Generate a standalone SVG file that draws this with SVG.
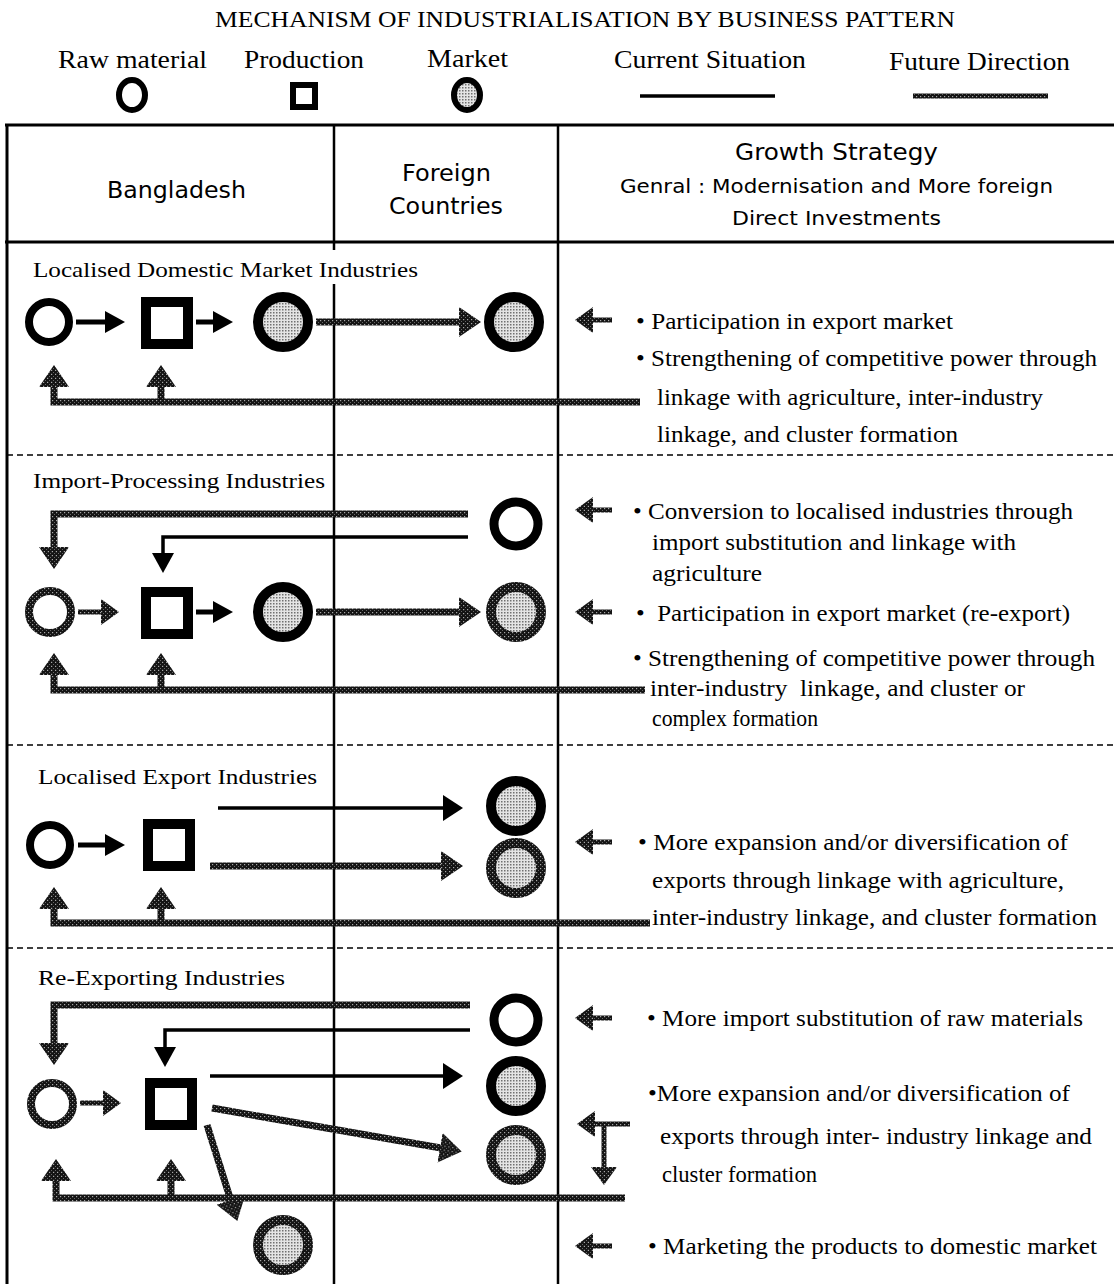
<svg xmlns="http://www.w3.org/2000/svg" width="1114" height="1284" viewBox="0 0 1114 1284">
<style>
.t{font-family:"Liberation Serif",serif;fill:#000}
.h{font-family:"DejaVu Sans","Liberation Sans",sans-serif;fill:#000}
.b{font-size:23.5px}
.st{font-size:22px}
.grid{stroke:#000;fill:none}
.dash{stroke:#000;stroke-width:1.5;stroke-dasharray:6 4;fill:none}
.cur{stroke:#000;stroke-width:3.5;fill:none}
.cs{stroke:#000;stroke-width:5;fill:none}
.fut{stroke:url(#tex);stroke-width:7;fill:none}
.fs{stroke:url(#tex);stroke-width:5;fill:none}
.raw{fill:#fff;stroke:#000;stroke-width:8}
.rawF{fill:#fff;stroke:#000;stroke-width:9}
.rawT{fill:#fff;stroke:url(#tex);stroke-width:8}
.prod{fill:#fff;stroke:#000;stroke-width:10}
.mkt{fill:url(#dots);stroke:#000;stroke-width:10}
.mktT{fill:url(#dots);stroke:url(#tex);stroke-width:10}
</style>
<defs>
<pattern id="tex" patternUnits="userSpaceOnUse" width="4" height="4">
<rect width="4" height="4" fill="#141414"/>
<rect x="0" y="0" width="1.2" height="1.2" fill="#a8a8a8"/>
<rect x="2" y="2" width="1" height="1" fill="#666"/>
</pattern>
<pattern id="dots" patternUnits="userSpaceOnUse" width="3" height="3">
<rect width="3" height="3" fill="#e4e4e4"/>
<rect width="1.5" height="1.5" fill="#707070"/>
</pattern>
<marker id="ah" markerUnits="userSpaceOnUse" viewBox="0 0 20 22" markerWidth="20" markerHeight="22" refX="1" refY="11" orient="auto"><path d="M0,0 L20,11 L0,22 z" fill="#000"/></marker>
<marker id="ahL" markerUnits="userSpaceOnUse" viewBox="0 0 20 26" markerWidth="20" markerHeight="26" refX="1" refY="13" orient="auto"><path d="M0,0 L20,13 L0,26 z" fill="#000"/></marker>
<marker id="fh" markerUnits="userSpaceOnUse" viewBox="0 0 22 30" markerWidth="22" markerHeight="30" refX="1" refY="15" orient="auto"><path d="M0,0 L22,15 L0,30 z" fill="url(#tex)"/></marker>
<marker id="fhs" markerUnits="userSpaceOnUse" viewBox="0 0 18 26" markerWidth="18" markerHeight="26" refX="1" refY="13" orient="auto"><path d="M0,0 L18,13 L0,26 z" fill="url(#tex)"/></marker>
</defs>
<rect width="1114" height="1284" fill="#fff"/>

<g id="title">
<text class="t" x="215" y="27" font-size="24" textLength="740" lengthAdjust="spacingAndGlyphs">MECHANISM OF INDUSTRIALISATION BY BUSINESS PATTERN</text>
</g>

<g id="legend">
<text class="t" x="58" y="68" font-size="26" textLength="149" lengthAdjust="spacingAndGlyphs">Raw material</text>
<text class="t" x="244" y="68" font-size="26" textLength="120" lengthAdjust="spacingAndGlyphs">Production</text>
<text class="t" x="427" y="67" font-size="26" textLength="81" lengthAdjust="spacingAndGlyphs">Market</text>
<text class="t" x="614" y="68" font-size="26" textLength="192" lengthAdjust="spacingAndGlyphs">Current Situation</text>
<text class="t" x="889" y="70" font-size="26" textLength="181" lengthAdjust="spacingAndGlyphs">Future Direction</text>
<ellipse cx="132" cy="95" rx="13" ry="15" fill="#fff" stroke="#000" stroke-width="6"/>
<rect x="293" y="85" width="22" height="22" fill="#fff" stroke="#000" stroke-width="6"/>
<ellipse cx="467" cy="95" rx="13" ry="15" fill="url(#dots)" stroke="#000" stroke-width="6"/>
<path class="cur" d="M640,96 H775"/>
<path d="M913,96 H1048" stroke="url(#tex)" stroke-width="5" fill="none"/>
</g>

<g id="table">
<path class="grid" stroke-width="3" d="M5,125 H1114"/>
<path class="grid" stroke-width="3" d="M5,242 H1114"/>
<path class="grid" stroke-width="3" d="M7,125 V1284"/>
<path class="grid" stroke-width="2.5" d="M334,125 V250 M334,284 V1284"/>
<path class="grid" stroke-width="2.5" d="M558,125 V1284"/>
<path class="dash" d="M7,455 H1114 M7,745 H1114 M7,948 H1114"/>
</g>

<g id="header">
<text class="h" x="107" y="198" font-size="23" textLength="139" lengthAdjust="spacingAndGlyphs">Bangladesh</text>
<text class="h" x="402" y="181" font-size="23" textLength="89" lengthAdjust="spacingAndGlyphs">Foreign</text>
<text class="h" x="389" y="214" font-size="23" textLength="114" lengthAdjust="spacingAndGlyphs">Countries</text>
<text class="h" x="735" y="160" font-size="23" textLength="203" lengthAdjust="spacingAndGlyphs">Growth Strategy</text>
<text class="h" x="620" y="193" font-size="20" textLength="433" lengthAdjust="spacingAndGlyphs">Genral : Modernisation and More foreign</text>
<text class="h" x="732" y="225" font-size="20" textLength="209" lengthAdjust="spacingAndGlyphs">Direct Investments</text>
</g>

<g id="connectors">
<!-- section 1 -->
<path class="cs" d="M76,322 H106" marker-end="url(#ah)"/>
<path class="cs" d="M196,322 H214" marker-end="url(#ah)"/>
<path class="fut" d="M316,322 H460" marker-end="url(#fh)"/>
<path class="fut" d="M640,402 H54 V386" marker-end="url(#fh)"/>
<path class="fut" d="M161,402 V386" marker-end="url(#fh)"/>
<path class="fs" d="M612,320 H592" marker-end="url(#fhs)"/>
<!-- section 2 -->
<path class="fut" d="M468,514 H54 V548" marker-end="url(#fh)"/>
<path class="cur" d="M468,537 H163 V554" marker-end="url(#ah)"/>
<path class="fs" d="M78,612 H102" marker-end="url(#fhs)"/>
<path class="cs" d="M196,612 H214" marker-end="url(#ah)"/>
<path class="fut" d="M316,612 H460" marker-end="url(#fh)"/>
<path class="fut" d="M645,690 H54 V674" marker-end="url(#fh)"/>
<path class="fut" d="M161,690 V674" marker-end="url(#fh)"/>
<path class="fs" d="M612,510 H592" marker-end="url(#fhs)"/>
<path class="fs" d="M612,612 H592" marker-end="url(#fhs)"/>
<!-- section 3 -->
<path class="cs" d="M78,845 H106" marker-end="url(#ah)"/>
<path class="cur" d="M218,808 H444" marker-end="url(#ahL)"/>
<path class="fut" d="M210,866 H442" marker-end="url(#fh)"/>
<path class="fut" d="M650,923 H54 V908" marker-end="url(#fh)"/>
<path class="fut" d="M161,923 V908" marker-end="url(#fh)"/>
<path class="fs" d="M612,842 H592" marker-end="url(#fhs)"/>
<!-- section 4 -->
<path class="fut" d="M470,1005 H54 V1044" marker-end="url(#fh)"/>
<path class="cur" d="M470,1030 H165 V1048" marker-end="url(#ah)"/>
<path class="fs" d="M80,1103 H104" marker-end="url(#fhs)"/>
<path class="cur" d="M210,1076 H444" marker-end="url(#ahL)"/>
<path class="fut" d="M212,1108 L441,1148" marker-end="url(#fh)"/>
<path class="fut" d="M207,1125 L231,1201" marker-end="url(#fh)"/>
<path class="fut" d="M625,1198 H56 V1180" marker-end="url(#fh)"/>
<path class="fut" d="M171,1198 V1180" marker-end="url(#fh)"/>
<path class="fs" d="M612,1018 H592" marker-end="url(#fhs)"/>
<path class="fs" d="M630,1124 H594" marker-end="url(#fhs)"/>
<path class="fs" d="M604,1124 V1168" marker-end="url(#fhs)"/>
<path class="fs" d="M612,1246 H592" marker-end="url(#fhs)"/>
</g>

<g id="sec1">
<text class="t st" x="33" y="277" textLength="385" lengthAdjust="spacingAndGlyphs">Localised Domestic Market Industries</text>
<g id="s1-raw"><circle class="raw" cx="49" cy="322" r="20"/></g>
<g id="s1-prod"><rect class="prod" x="146" y="302" width="42" height="42"/></g>
<g id="s1-mkt"><circle class="mkt" cx="283" cy="322" r="25"/></g>
<g id="s1-fmkt"><circle class="mkt" cx="514" cy="322" r="25"/></g>
<text class="t b" x="636" y="329" textLength="317" lengthAdjust="spacingAndGlyphs">• Participation in export market</text>
<text class="t b" x="636" y="366" textLength="461" lengthAdjust="spacingAndGlyphs">• Strengthening of competitive power through</text>
<text class="t b" x="657" y="405" textLength="386" lengthAdjust="spacingAndGlyphs">linkage with agriculture, inter-industry</text>
<text class="t b" x="657" y="442" textLength="301" lengthAdjust="spacingAndGlyphs">linkage, and cluster formation</text>
</g>

<g id="sec2">
<text class="t st" x="33" y="488" textLength="292" lengthAdjust="spacingAndGlyphs">Import-Processing Industries</text>
<g id="s2-fraw"><circle class="rawF" cx="516" cy="524" r="22"/></g>
<g id="s2-raw"><circle class="rawT" cx="50" cy="612" r="21"/></g>
<g id="s2-prod"><rect class="prod" x="146" y="592" width="42" height="42"/></g>
<g id="s2-mkt"><circle class="mkt" cx="283" cy="612" r="25"/></g>
<g id="s2-fmkt"><circle class="mktT" cx="516" cy="612" r="25"/></g>
<text class="t b" x="633" y="519" textLength="440" lengthAdjust="spacingAndGlyphs">• Conversion to localised industries through</text>
<text class="t b" x="652" y="550" textLength="364" lengthAdjust="spacingAndGlyphs">import substitution and linkage with</text>
<text class="t b" x="652" y="581" textLength="110" lengthAdjust="spacingAndGlyphs">agriculture</text>
<text class="t b" x="636" y="621" textLength="434" lengthAdjust="spacingAndGlyphs" style="white-space:pre">•  Participation in export market (re-export)</text>
<text class="t b" x="633" y="666" textLength="462" lengthAdjust="spacingAndGlyphs">• Strengthening of competitive power through</text>
<text class="t b" x="650" y="696" textLength="375" lengthAdjust="spacingAndGlyphs" style="white-space:pre">inter-industry  linkage, and cluster or</text>
<text class="t b" x="652" y="726" textLength="166" lengthAdjust="spacingAndGlyphs">complex formation</text>
</g>

<g id="sec3">
<text class="t st" x="38" y="784" textLength="279" lengthAdjust="spacingAndGlyphs">Localised Export Industries</text>
<g id="s3-raw"><circle class="raw" cx="50" cy="845" r="20"/></g>
<g id="s3-prod"><rect class="prod" x="148" y="824" width="42" height="42"/></g>
<g id="s3-fmkt1"><circle class="mkt" cx="516" cy="806" r="25"/></g>
<g id="s3-fmkt2"><circle class="mktT" cx="516" cy="868" r="25"/></g>
<text class="t b" x="638" y="850" textLength="430" lengthAdjust="spacingAndGlyphs">• More expansion and/or diversification of</text>
<text class="t b" x="652" y="888" textLength="412" lengthAdjust="spacingAndGlyphs">exports through linkage with agriculture,</text>
<text class="t b" x="652" y="925" textLength="445" lengthAdjust="spacingAndGlyphs">inter-industry linkage, and cluster formation</text>
</g>

<g id="sec4">
<text class="t st" x="38" y="985" textLength="247" lengthAdjust="spacingAndGlyphs">Re-Exporting Industries</text>
<g id="s4-fraw"><circle class="rawF" cx="516" cy="1020" r="22"/></g>
<g id="s4-fmkt1"><circle class="mkt" cx="516" cy="1086" r="25"/></g>
<g id="s4-fmkt2"><circle class="mktT" cx="516" cy="1155" r="25"/></g>
<g id="s4-raw"><circle class="rawT" cx="52" cy="1104" r="21"/></g>
<g id="s4-prod"><rect class="prod" x="150" y="1083" width="42" height="42"/></g>
<g id="s4-dmkt"><circle class="mktT" cx="283" cy="1245" r="25"/></g>
<text class="t b" x="647" y="1026" textLength="436" lengthAdjust="spacingAndGlyphs">• More import substitution of raw materials</text>
<text class="t b" x="648" y="1101" textLength="422" lengthAdjust="spacingAndGlyphs">•More expansion and/or diversification of</text>
<text class="t b" x="660" y="1144" textLength="432" lengthAdjust="spacingAndGlyphs">exports through inter- industry linkage and</text>
<text class="t b" x="662" y="1182" textLength="155" lengthAdjust="spacingAndGlyphs">cluster formation</text>
<text class="t b" x="648" y="1254" textLength="449" lengthAdjust="spacingAndGlyphs">• Marketing the products to domestic market</text>
</g>
</svg>
